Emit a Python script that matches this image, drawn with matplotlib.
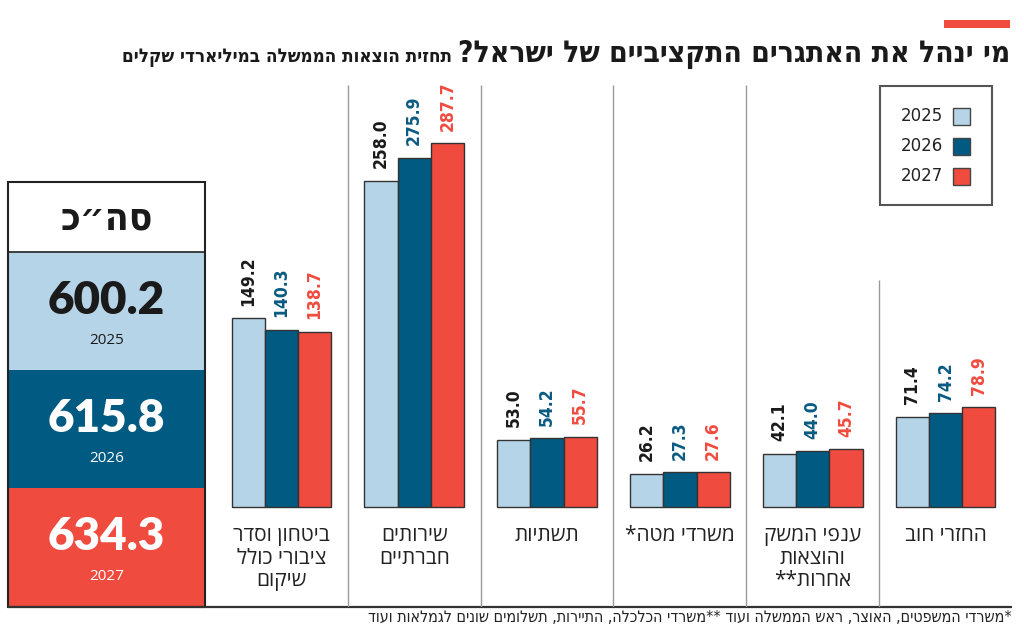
import matplotlib
matplotlib.use("Agg")
import matplotlib.pyplot as plt
from matplotlib.patches import Rectangle
from matplotlib import font_manager as fm
import numpy as np

# ---------------- data ----------------
years = ["2025", "2026", "2027"]
categories = [
    "ביטחון וסדר\nציבורי כולל\nשיקום",
    "שירותים\nחברתיים",
    "תשתיות",
    "משרדי מטה*",
    "ענפי המשק\nוהוצאות\nאחרות**",
    "החזרי חוב",
]
values_2025 = [149.2, 258.0, 53.0, 26.2, 42.1, 71.4]
values_2026 = [140.3, 275.9, 54.2, 27.3, 44.0, 74.2]
values_2027 = [138.7, 287.7, 55.7, 27.6, 45.7, 78.9]
totals = [600.2, 615.8, 634.3]

title = "מי ינהל את האתגרים התקציביים של ישראל?"
subtitle = "תחזית הוצאות הממשלה במיליארדי שקלים"
total_label = "סה״כ"
footnote = "*משרדי המשפטים, האוצר, ראש הממשלה ועוד **משרדי הכלכלה, התיירות, תשלומים שונים לגמלאות ועוד"

# ---------------- style ----------------
C_LIGHT = "#b6d4e7"
C_DARK = "#005a82"
C_RED = "#ef4b3f"
bar_colors = [C_LIGHT, C_DARK, C_RED]
label_colors = ["#1a1a1a", "#0a5a82", C_RED]

# condensed fonts if present
cond_bold = None
cond_reg = None
for f in fm.fontManager.ttflist:
    fn = f.fname.lower()
    if "dejavusanscondensed-bold.ttf" in fn:
        cond_bold = f.fname
    if fn.endswith("dejavusanscondensed.ttf"):
        cond_reg = f.fname


def fp_bold(size):
    if cond_bold:
        return fm.FontProperties(fname=cond_bold, size=size)
    return fm.FontProperties(family="DejaVu Sans", weight="bold",
                             stretch="condensed", size=size)


def fp_reg(size):
    if cond_reg:
        return fm.FontProperties(fname=cond_reg, size=size)
    return fm.FontProperties(family="DejaVu Sans", stretch="condensed", size=size)


REG = ["Open Sans", "DejaVu Sans"]
HEAVY = ["Lato", "DejaVu Sans"]


def heb(s):
    """Convert logical-order Hebrew text to visual (LTR) order, line by line."""
    return "\n".join(line[::-1] for line in s.split("\n"))


W, H = 1024, 632
fig = plt.figure(figsize=(W / 100, H / 100), dpi=100)
fig.patch.set_facecolor("white")

# overlay in pixel coordinates
ov = fig.add_axes([0, 0, 1, 1])
ov.set_xlim(0, W)
ov.set_ylim(H, 0)
ov.axis("off")

# bar axes
px_per_unit = 1.265
base_px = 507
top_px, bot_px = 85, 607
x_left_px, x_right_px = 215, 1012
ax = fig.add_axes([x_left_px / W, (H - bot_px) / H,
                   (x_right_px - x_left_px) / W, (bot_px - top_px) / H])
ax.set_facecolor("none")
ymin = -(bot_px - base_px) / px_per_unit
ymax = (base_px - top_px) / px_per_unit
ax.set_ylim(ymin, ymax)
ax.set_xlim(-0.5, len(categories) - 0.5)
ax.axis("off")

x = np.arange(len(categories))
bw = 0.25
series = [values_2025, values_2026, values_2027]
for k, vals in enumerate(series):
    off = (k - 1) * bw
    ax.bar(x + off, vals, width=bw, color=bar_colors[k],
           edgecolor="#333333", linewidth=1.0, zorder=3)
    for xi, v in zip(x + off, vals):
        ax.annotate(f"{v:.1f}", (xi, v), xytext=(0, 9),
                    textcoords="offset points", rotation=90,
                    ha="center", va="bottom", fontproperties=fp_bold(12.5),
                    color=label_colors[k])

# separators
for s in [0.5, 1.5, 2.5, 3.5]:
    ax.vlines(s, ymin, ymax, color="#9a9a9a", lw=1.0)
ax.vlines(4.5, ymin, (base_px - 280) / px_per_unit, color="#9a9a9a", lw=1.0)

# category labels
for xi, c in zip(x, categories):
    ax.text(xi, -(525 - base_px) / px_per_unit, heb(c), ha="center", va="top",
            fontsize=15, family=REG, color="#222222", linespacing=1.1)

# bottom line
ov.plot([8, 1012], [607, 607], color="#333333", lw=1.6, solid_capstyle="butt")

# totals box
box_l, box_r = 8, 205
ov.add_patch(Rectangle((box_l, 182), box_r - box_l, 70, facecolor="white",
                       edgecolor="none"))
seg_tops = [252, 370, 488]
seg_h = 118
for k, t in enumerate(seg_tops):
    ov.add_patch(Rectangle((box_l, t), box_r - box_l, seg_h if k < 2 else 607 - t,
                           facecolor=bar_colors[k], edgecolor="none"))
ov.add_patch(Rectangle((box_l, 182), box_r - box_l, 607 - 182, facecolor="none",
                       edgecolor="#222222", lw=1.5))
ov.plot([box_l, box_r], [252, 252], color="#222222", lw=1.2)
cx = (box_l + box_r) / 2
ov.text(cx, 219, heb(total_label), ha="center", va="center",
        fontproperties=fp_bold(28), color="#1a1a1a")
num_colors = ["#1a1a1a", "white", "white"]
for k, (t, tot) in enumerate(zip(seg_tops, totals)):
    ov.text(cx, t + 49, f"{tot:.1f}", ha="center", va="center", fontsize=33,
            fontweight="heavy", family=HEAVY, color=num_colors[k])
    ov.text(cx, t + 88, years[k], ha="center", va="center", fontsize=11,
            family=REG, color=num_colors[k])

# legend
ov.add_patch(Rectangle((880, 86), 112, 119, facecolor="white",
                       edgecolor="#555555", lw=1.5))
for k, yr in enumerate(years):
    yc = 116 + 30 * k
    ov.text(943, yc, yr, ha="right", va="center", fontsize=12,
            family=["DejaVu Sans"], color="#222222")
    ov.add_patch(Rectangle((953, yc - 8.5), 17, 17, facecolor=bar_colors[k],
                           edgecolor="#444444", lw=1.0))

# title + accent
ov.add_patch(Rectangle((944, 20), 66, 8, facecolor=C_RED, edgecolor="none"))
t_title = ov.text(1010, 62, heb(title), ha="right", va="baseline",
                  fontproperties=fp_bold(21.5), color="#1a1a1a")
fig.canvas.draw()
bb = t_title.get_window_extent()
title_left_px = bb.x0  # display coords, same as pixels at dpi 100
ov.text(title_left_px - 6, 62, heb(subtitle), ha="right", va="baseline",
        fontproperties=fp_bold(13.5), color="#1a1a1a")

# footnote
ov.text(1012, 618, heb(footnote), ha="right", va="center",
        fontproperties=fp_reg(11.5), color="#222222")

fig.savefig("out.png", dpi=100, facecolor="white")
